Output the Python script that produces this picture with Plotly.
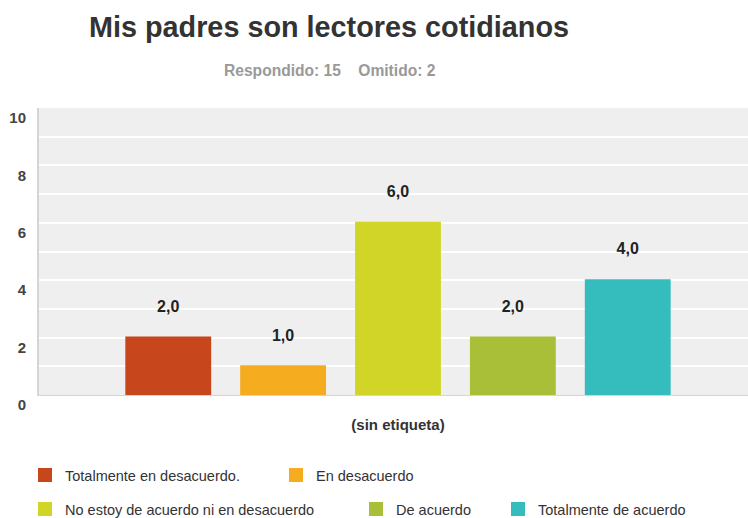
import plotly.graph_objects as go

categories = ["(sin etiqueta)"]
series_names = ["Totalmente en desacuerdo.", "En desacuerdo",
                "No estoy de acuerdo ni en desacuerdo", "De acuerdo",
                "Totalmente de acuerdo"]
series_values = [2.0, 1.0, 6.0, 2.0, 4.0]
series_colors = ["#C8461C", "#F5AC1F", "#D0D528", "#A9BF38", "#35BDBE"]
y_ticks = [0, 2, 4, 6, 8, 10]

W, H = 748, 518
legend_pos = [(39, 475), (290, 475), (39, 509), (370, 509), (512, 509)]
FONT = "Liberation Sans, Arial, sans-serif"

fig = go.Figure()
for i, (name, val, col) in enumerate(zip(series_names, series_values, series_colors)):
    lg = "legend" if i == 0 else f"legend{i+1}"
    fig.add_trace(go.Bar(
        x=categories, y=[val], name=name, marker_color=col,
        marker_line=dict(width=2, color=col),
        texttemplate="<b>%{y:.1f}</b><br><span style='font-size:9px'> </span>",
        textposition="outside",
        textfont=dict(family=FONT, size=16, color="#222"),
        cliponaxis=False, legend=lg, hoverinfo="skip"))

layout = dict(
    width=W, height=H,
    separators=",.",
    paper_bgcolor="white", plot_bgcolor="#EFEFEF",
    margin=dict(l=39, r=0, t=108, b=123, autoexpand=False),
    font=dict(family=FONT, color="#333"),
    barmode="group", bargap=0.2, bargroupgap=0.27,
    title=dict(text="<b>Mis padres son lectores cotidianos</b>",
               font=dict(size=28.8, color="#333"),
               xref="container", yref="container",
               x=329 / W, y=1 - 27 / H, xanchor="center", yanchor="middle"),
    annotations=[dict(text="<b>Respondido: 15&nbsp;&nbsp;&nbsp;&nbsp;Omitido: 2</b>",
                      xref="paper", yref="paper", showarrow=False,
                      x=(330 - 39) / (W - 39), y=1 + (108 - 71) / (395 - 108),
                      xanchor="center", yanchor="middle",
                      font=dict(size=15.6, color="#999"))],
    xaxis=dict(range=[-0.5, 0.4875], showgrid=False, showline=True,
               linecolor="#D5D5D5", linewidth=1, ticks="", automargin=False,
               tickfont=dict(size=15, color="#333", weight="bold"),
               ticklabelstandoff=16, fixedrange=True),
    yaxis=dict(range=[0, 10], tickvals=y_ticks, showgrid=True, gridcolor="white",
               gridwidth=1.5, showline=True, linecolor="#D5D5D5", linewidth=2,
               zeroline=False, automargin=False,
               minor=dict(dtick=1, showgrid=True, gridcolor="white", gridwidth=1.5),
               tickfont=dict(size=15, color="#444", weight="bold"),
               ticklabelshift=10, ticklabelstandoff=8, fixedrange=True),
    showlegend=True,
)
for i, (px, py) in enumerate(legend_pos):
    key = "legend" if i == 0 else f"legend{i+1}"
    layout[key] = dict(xref="container", yref="container",
                       x=(px - 14) / W, y=1 - py / H,
                       xanchor="left", yanchor="middle",
                       orientation="h", bgcolor="rgba(0,0,0,0)",
                       font=dict(size=14.5, color="#333"))
fig.update_layout(**layout)
fig.write_html("out.html", config={"displayModeBar": False},
               post_script="document.body.style.margin='0';document.body.style.overflow='hidden';")
